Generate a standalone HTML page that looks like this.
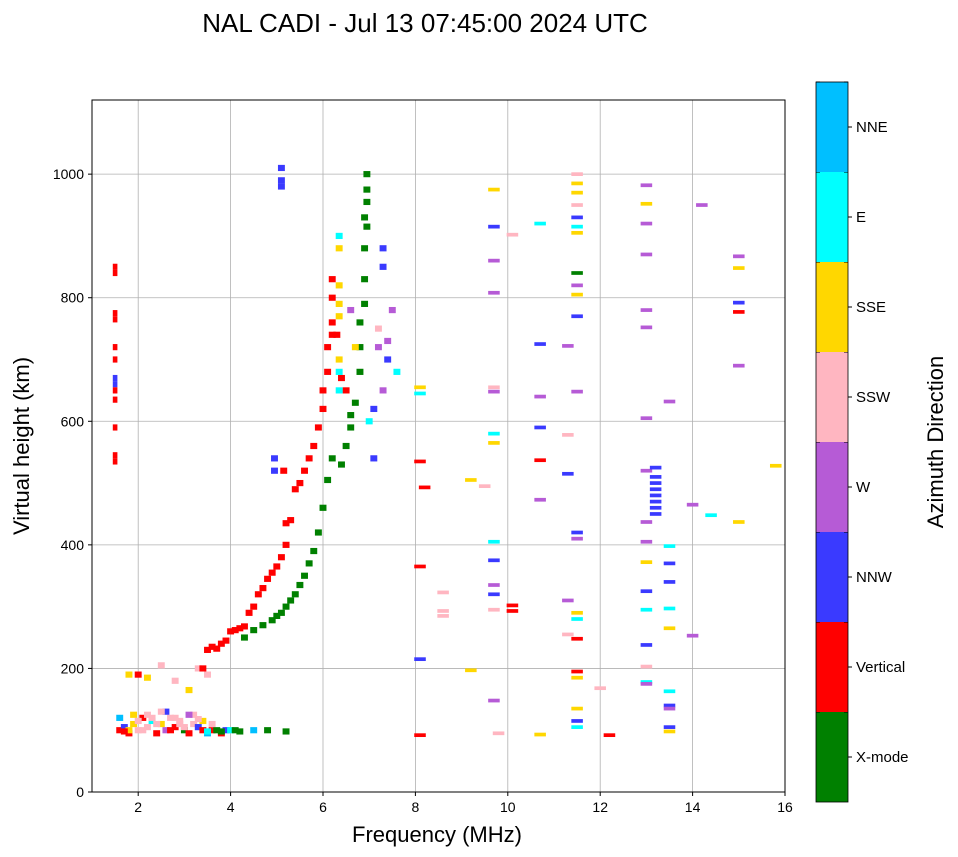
<!DOCTYPE html>
<html><head><meta charset="utf-8"><style>
body{margin:0;background:#fff;}
svg{display:block;font-family:"Liberation Sans",sans-serif;}
</style></head><body>
<svg id="chart" width="958" height="857">
<text x="425" y="32" font-size="26" text-anchor="middle">NAL CADI - Jul 13 07:45:00 2024 UTC</text>
<g id="grid"></g>
<g id="marks"></g>
<g id="axes"></g>
<g id="cbar"></g>
<text x="437" y="842" font-size="22" text-anchor="middle">Frequency (MHz)</text>
<text transform="translate(29,446) rotate(-90)" font-size="22" text-anchor="middle">Virtual height (km)</text>
<text transform="translate(943,442) rotate(-90)" font-size="22" text-anchor="middle">Azimuth Direction</text>
</svg>
<script>
const categories=["X-mode","Vertical","NNW","W","SSW","SSE","E","NNE"];
const catColors=["#008000","#ff0000","#3a3aff","#b65bd6","#ffb6c1","#ffd700","#00ffff","#00bfff"];
const xTicks=[2,4,6,8,10,12,14,16];
const yTicks=[0,200,400,600,800,1000];
// points: frequency (MHz), virtual height (km), category index
const freqs=[
1.5,1.5,1.5,1.5,1.5,1.5,1.5,1.5,1.5,1.5,1.5,1.5,1.5,
1.6,1.7,1.8,1.9,2.0,2.1,2.2,2.3,2.4,2.5,2.6,2.7,2.8,2.9,3.0,3.1,3.2,3.3,3.4,3.5,3.6,3.7,3.8,3.9,4.0,4.1,4.2,
1.6,1.8,2.0,2.2,2.4,2.6,2.8,3.0,3.2,3.4,3.6,3.8,
1.7,1.9,2.1,2.3,2.5,2.7,2.9,3.1,3.3,3.5,
2.0,2.2,2.5,1.8,2.8,3.1,3.3,3.5,
4.5,4.8,5.2,
3.4,3.5,3.6,3.7,3.8,3.9,4.0,4.1,4.2,4.3,4.4,4.5,4.6,4.7,4.8,4.9,5.0,5.1,5.2,5.2,5.3,5.4,5.5,5.6,5.7,5.8,5.9,6.0,6.0,6.1,6.1,6.2,6.2,6.2,6.2,6.3,6.4,6.5,
4.3,4.5,4.7,4.9,5.0,5.1,5.2,5.3,5.4,5.5,5.6,5.7,5.8,5.9,6.0,6.1,6.2,6.4,6.5,6.6,6.6,6.7,6.8,6.8,6.8,6.9,6.9,6.9,6.9,6.95,6.95,6.95,6.95,
6.35,6.35,6.35,6.35,6.35,6.35,6.35,6.35,6.6,6.7,
7.3,7.3,7.2,7.4,7.3,7.1,7.1,7.5,7.2,7.4,7.0,7.6,
5.1,5.1,5.1,4.95,4.95,5.15,
8.1,8.1,8.1,8.1,8.1,8.1,8.2,8.6,8.6,8.6,9.2,9.2,9.5,
9.7,9.7,9.7,9.7,9.7,9.7,9.7,9.7,9.7,9.7,9.7,9.7,9.7,9.7,9.8,10.1,10.1,10.1,
10.7,10.7,10.7,10.7,10.7,10.7,10.7,11.3,11.3,11.3,11.3,11.3,
11.5,11.5,11.5,11.5,11.5,11.5,11.5,11.5,11.5,11.5,11.5,11.5,11.5,11.5,11.5,11.5,11.5,11.5,11.5,11.5,11.5,11.5,12.0,12.2,
13.0,13.0,13.0,13.0,13.0,13.0,13.0,13.0,13.0,13.2,13.2,13.2,13.2,13.2,13.2,13.2,13.2,13.0,13.0,13.0,13.0,13.0,13.0,13.0,13.0,
13.5,13.5,13.5,13.5,13.5,13.5,13.5,13.5,13.5,13.5,13.5,14.0,14.0,14.2,14.4,15.0,15.0,15.0,15.0,15.0,15.0,15.8];
const heights=[
850,840,775,765,720,700,670,660,650,635,590,545,535,
100,105,95,110,100,120,105,115,95,110,100,120,105,115,100,95,110,105,100,95,100,100,95,100,100,100,98,
120,100,115,125,110,130,120,105,125,115,110,98,
98,125,100,120,130,100,110,125,118,98,
190,185,205,190,180,165,200,190,
100,100,98,
200,230,235,232,240,245,260,262,265,268,290,300,320,330,345,355,365,380,400,435,440,490,500,520,540,560,590,620,650,680,720,740,760,800,830,740,670,650,
250,262,270,278,285,290,300,310,320,335,350,370,390,420,460,505,540,530,560,590,610,630,680,720,760,790,830,880,930,955,975,1000,915,
900,820,790,770,700,680,650,880,780,720,
880,850,720,700,650,620,540,780,750,730,600,680,
1010,990,980,540,520,520,
655,645,535,365,215,92,493,323,293,285,505,197,495,
975,915,860,808,655,648,580,565,405,375,335,320,295,148,95,902,302,293,
920,725,640,590,537,473,93,722,578,515,310,255,
1000,985,970,950,930,915,905,840,805,820,770,648,420,410,290,280,248,195,185,135,115,105,168,92,
982,952,920,870,780,752,605,520,437,525,510,500,490,480,470,460,450,372,405,325,295,238,203,178,175,
632,398,370,340,297,265,163,140,135,105,98,465,253,950,448,867,848,792,777,690,437,528];
const types=[
1,1,1,1,1,1,2,2,1,1,1,1,1,
1,2,1,5,4,1,4,6,1,5,3,4,1,4,0,1,4,2,1,7,1,0,1,2,6,0,0,
7,5,4,4,4,2,4,4,4,5,4,0,
1,5,4,4,4,1,4,3,4,6,
1,5,4,5,4,5,4,4,
7,0,0,
1,1,1,1,1,1,1,1,1,1,1,1,1,1,1,1,1,1,1,1,1,1,1,1,1,1,1,1,1,1,1,1,1,1,1,1,1,1,
0,0,0,0,0,0,0,0,0,0,0,0,0,0,0,0,0,0,0,0,0,0,0,0,0,0,0,0,0,0,0,0,0,
6,5,5,5,5,6,6,5,3,5,
2,2,3,2,3,2,2,3,4,3,6,6,
2,2,2,2,2,1,
5,6,1,1,2,1,1,4,4,4,5,5,4,
5,2,3,3,4,3,6,5,6,2,3,2,4,3,4,4,1,1,
6,2,3,2,1,3,5,3,4,2,3,4,
4,5,5,4,2,6,5,0,5,3,2,3,2,3,5,6,1,1,5,5,2,6,4,1,
3,5,3,3,3,3,3,3,3,2,2,2,2,2,2,2,2,5,3,2,6,2,4,6,3,
3,6,2,2,6,5,6,2,3,2,5,3,3,3,6,3,5,2,1,3,5,5];

const X0=92,X1=785,Y0=792,Y1=100,xmin=1,xmax=16,ymin=0,ymax=1120;
const NS="http://www.w3.org/2000/svg";
function xs(v){return X0+(v-xmin)/(xmax-xmin)*(X1-X0);}
function ys(v){return Y0-(v-ymin)/(ymax-ymin)*(Y0-Y1);}
function mk(tag,attrs,parent){const e=document.createElementNS(NS,tag);for(const k in attrs)e.setAttribute(k,attrs[k]);parent.appendChild(e);return e;}
const grid=document.getElementById('grid'),marks=document.getElementById('marks'),axes=document.getElementById('axes'),cbar=document.getElementById('cbar');
xTicks.forEach(t=>{const x=xs(t);
 if(t<xmax){const g=mk('line',{x1:x,x2:x,y1:Y1,y2:Y0,stroke:'#b0b0b0','stroke-width':0.8},grid);
 
 }
 mk('line',{x1:x,x2:x,y1:Y0,y2:Y0+4,stroke:'#000'},axes);
 const tx=mk('text',{x:x,y:Y0+20,'font-size':14,'text-anchor':'middle'},axes);tx.textContent=t;
 
 });
yTicks.forEach(t=>{const y=ys(t);
 const g=mk('line',{x1:X0,x2:X1,y1:y,y2:y,stroke:'#b0b0b0','stroke-width':0.8},grid);
 
 
 mk('line',{x1:X0-4,x2:X0,y1:y,y2:y,stroke:'#000'},axes);
 const tx=mk('text',{x:X0-8,y:y+5,'font-size':14,'text-anchor':'end'},axes);tx.textContent=t;
 
 });
const n=Math.min(freqs.length,heights.length,types.length);
for(let i=0;i<n;i++){
 const w=freqs[i]>=8?0.25:(freqs[i]<=1.5?0.1:0.15);
 const dh=(freqs[i]>=8)?3:5;
 const x0=xs(freqs[i]-w/2),x1=xs(freqs[i]+w/2),y=ys(heights[i]+dh),h=ys(heights[i]-dh)-y;
 const r=mk('rect',{x:x0,y:y,width:x1-x0,height:h,fill:catColors[types[i]]},marks);
 
 }
const fr=mk('rect',{x:X0,y:Y1,width:X1-X0,height:Y0-Y1,fill:'none',stroke:'#000','stroke-width':1},axes);


const CX=816,CW=32,CT=82,CB=802,seg=(CB-CT)/categories.length;
categories.forEach((c,i)=>{const y=CB-(i+1)*seg;
 const r=mk('rect',{x:CX,y:y,width:CW,height:seg,fill:catColors[i]},cbar);
 
 
 mk('line',{x1:CX+CW,x2:CX+CW+4,y1:y+seg/2,y2:y+seg/2,stroke:'#000'},cbar);
 mk('line',{x1:CX+CW-4,x2:CX+CW,y1:y,y2:y,stroke:'#000'},cbar);
 mk('line',{x1:CX,x2:CX+4,y1:y,y2:y,stroke:'#000'},cbar);
 const t=mk('text',{x:CX+CW+8,y:y+seg/2+5,'font-size':15},cbar);t.textContent=c;
 
 });
mk('rect',{x:CX,y:CT,width:CW,height:CB-CT,fill:'none',stroke:'#000','stroke-width':0.8},cbar);
</script>
</body></html>
